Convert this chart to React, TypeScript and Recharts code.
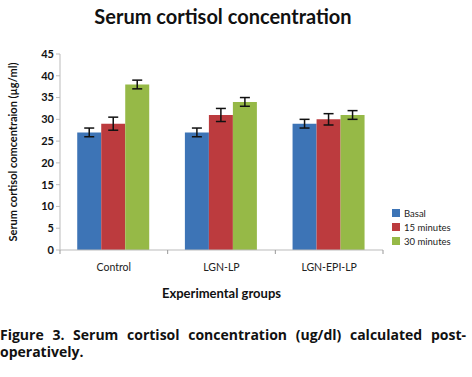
import { BarChart, Bar, XAxis, YAxis, ErrorBar, Label } from "recharts";

const groups = ["Control", "LGN-LP", "LGN-EPI-LP"];
const basal = [27, 27, 29];
const min15 = [29, 31, 30];
const min30 = [38, 34, 31];
const basalErr = [1, 1, 1];
const min15Err = [1.5, 1.5, 1.3];
const min30Err = [1, 1, 1];
const yTicks = [0, 5, 10, 15, 20, 25, 30, 35, 40, 45];

const data = groups.map((g, i) => ({
  group: g,
  basal: basal[i],
  min15: min15[i],
  min30: min30[i],
  basalErr: basalErr[i],
  min15Err: min15Err[i],
  min30Err: min30Err[i],
}));

const font = "Lato, 'Open Sans', sans-serif";

const XTick = (props: any) => {
  const { x, y, payload, index } = props;
  const half = payload?.offset ?? 54;
  return (
    <g>
      <line x1={x - half} x2={x - half} y1={y - 8} y2={y - 4} stroke="#999" />
      {index === groups.length - 1 && (
        <line x1={x + half} x2={x + half} y1={y - 8} y2={y - 4} stroke="#999" />
      )}
      <text x={x} y={y + 13} textAnchor="middle" fontSize={10.5} fill="#222" fontFamily={font}>
        {payload.value}
      </text>
    </g>
  );
};

const legendItems = [
  { label: "Basal", color: "#3D74B6" },
  { label: "15 minutes", color: "#BC3B3E" },
  { label: "30 minutes", color: "#96B947" },
];

const LegendBox = () => (
  <div style={{ position: "absolute", left: 392, top: 206, fontFamily: font, fontSize: 9.5, color: "#222" }}>
    {legendItems.map((it) => (
      <div key={it.label} style={{ display: "flex", alignItems: "center", height: 14 }}>
        <span style={{ width: 8, height: 8, background: it.color, marginRight: 4 }} />
        {it.label}
      </div>
    ))}
  </div>
);

export default function App() {
  return (
    <div style={{ position: "absolute", left: 0, top: 0, width: 472, height: 377, background: "#fff" }}>
      <div
        style={{
          position: "absolute",
          left: 0,
          width: 446,
          top: 4,
          textAlign: "center",
          fontFamily: font,
          fontWeight: 700,
          fontSize: 20,
          color: "#111",
        }}
      >
        Serum cortisol concentration
      </div>
      <BarChart
        width={472}
        height={302}
        data={data}
        margin={{ top: 54, right: 89, left: 0, bottom: 0 }}
        barCategoryGap="16%"
        barGap={0}
      >
        <YAxis
          width={60}
          domain={[0, 45]}
          ticks={yTicks}
          interval={0}
          stroke="#bbb"
          tickSize={4}
          tick={{ fontSize: 11, fontWeight: 700, fill: "#111", fontFamily: font }}
        >
          <Label
            value="Serum cortisol comcentraion  (µg/ml)"
            angle={-90}
            position="insideLeft"
            offset={13}
            style={{ textAnchor: "middle", fontSize: 11, fontWeight: 700, fill: "#111", fontFamily: font }}
          />
        </YAxis>
        <XAxis dataKey="group" height={52} stroke="#bbb" tickLine={false} tick={<XTick />} interval={0}>
          <Label
            value="Experimental groups"
            position="insideBottom"
            offset={4}
            style={{ fontSize: 13, fontWeight: 700, fill: "#111", fontFamily: font }}
          />
        </XAxis>
        <Bar dataKey="basal" name="Basal" fill="#3D74B6" isAnimationActive={false}>
          <ErrorBar dataKey="basalErr" width={5} stroke="#111" strokeWidth={1.5} />
        </Bar>
        <Bar dataKey="min15" name="15 minutes" fill="#BC3B3E" isAnimationActive={false}>
          <ErrorBar dataKey="min15Err" width={5} stroke="#111" strokeWidth={1.5} />
        </Bar>
        <Bar dataKey="min30" name="30 minutes" fill="#96B947" isAnimationActive={false}>
          <ErrorBar dataKey="min30Err" width={5} stroke="#111" strokeWidth={1.5} />
        </Bar>
      </BarChart>
      <LegendBox />
      <div
        style={{
          position: "absolute",
          left: 0,
          width: 466,
          top: 326,
          fontFamily: "'Open Sans', sans-serif",
          fontWeight: 700,
          fontSize: 14,
          lineHeight: "17px",
          textAlign: "justify",
          color: "#111",
        }}
      >
        Figure 3. Serum cortisol concentration (ug/dl) calculated post-operatively.
      </div>
    </div>
  );
}
